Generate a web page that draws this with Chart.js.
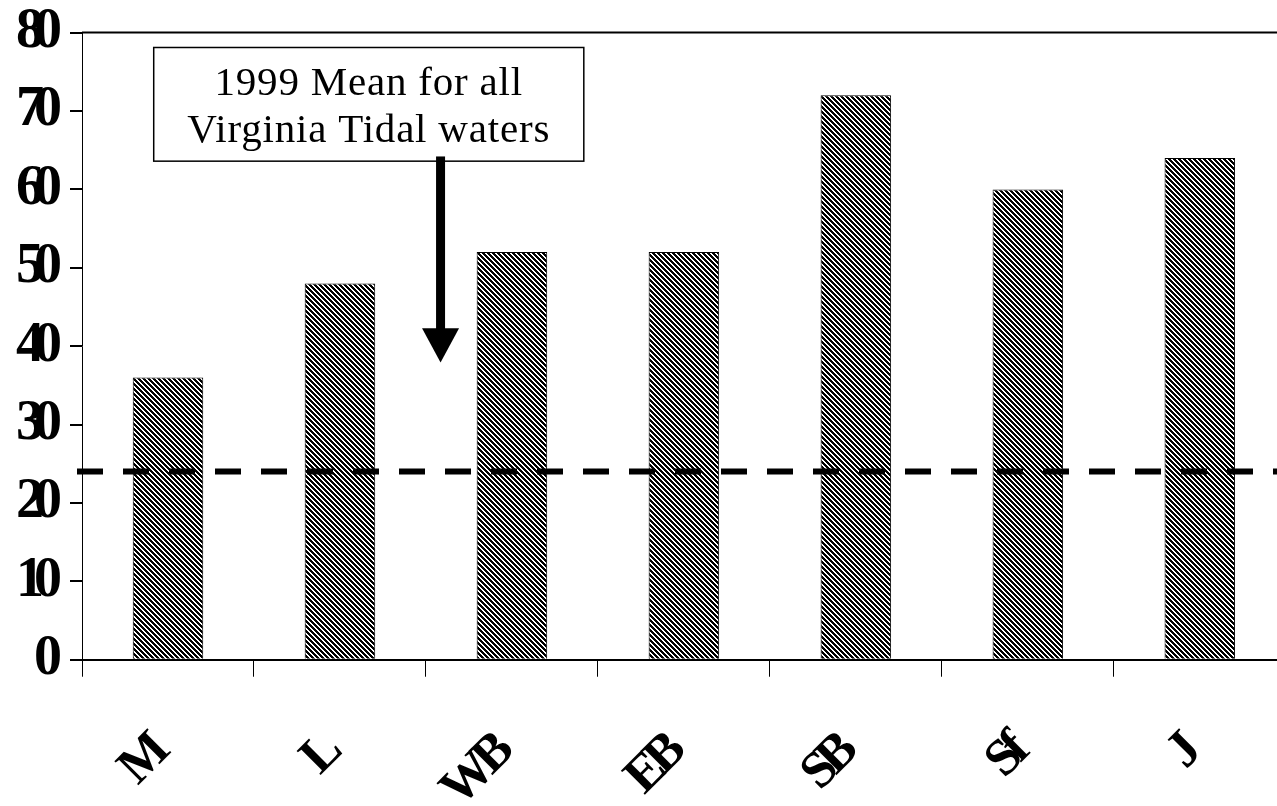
<!DOCTYPE html>
<html><head><meta charset="utf-8">
<script src="https://cdn.jsdelivr.net/npm/chart.js@4/dist/chart.umd.min.js"></script>
<style>
html,body{margin:0;padding:0;background:#fff;overflow:hidden}
#wrap{position:relative;width:1294px;height:883px;margin-left:-2px;margin-top:-19px}
</style>
</head><body>
<div id="wrap"><canvas id="c"></canvas></div>
<script>
// ---- data ----
const categories = ['M', 'L', 'WB', 'EB', 'SB', 'Sf', 'J'];
const values = [36, 48, 52, 52, 72, 60, 64];
const yTickValues = [0, 10, 20, 30, 40, 50, 60, 70, 80];
const virginiaMean = [24];
const noteLines = ['1999 Mean for all', 'Virginia Tidal waters'];

// ---- styling / placement (in data units of the scales) ----
const NOTE = { x0: -0.083, x1: 2.418, yTop: 78.1, yBottom: 63.6, line1: 72.1, line2: 66.0 };
const ARROW = { x: 1.585, yStart: 64.2, yHeadTop: 42.3, yTip: 37.9, headHalf: 18.5, shaft: 9 };
const SERIF = '"Liberation Serif", "Times New Roman", serif';
const Y_SPACING = '-10px';
const X_SPACING = '-7px';

function makePattern() {
  const n = 5;
  const c = document.createElement('canvas');
  c.width = n; c.height = n;
  const g = c.getContext('2d');
  g.fillStyle = '#000'; g.fillRect(0, 0, n, n);
  g.fillStyle = '#fff';
  for (let i = 0; i < n; i++) { g.fillRect(i, i, 1, 1); g.fillRect((i + 1) % n, i, 1, 1); }
  return g.createPattern(c, 'repeat');
}

function wrapLabels(scale, spacing) {
  if (!scale || scale.__wrapped) return;
  const orig = scale.drawLabels;
  scale.drawLabels = function (ca) {
    const prev = this.ctx.letterSpacing;
    this.ctx.letterSpacing = spacing;
    orig.call(this, ca);
    this.ctx.letterSpacing = prev;
  };
  scale.__wrapped = true;
}

const tickSpacing = {
  id: 'tickSpacing',
  beforeUpdate(chart) { chart.ctx.letterSpacing = Y_SPACING; },
  afterUpdate(chart) { wrapLabels(chart.scales.x, X_SPACING); wrapLabels(chart.scales.y, Y_SPACING); },
  beforeDraw(chart) { chart.ctx.letterSpacing = Y_SPACING; },
  afterDraw(chart) {
    const { ctx, chartArea: a, scales: { x, y } } = chart;
    ctx.save();
    ctx.letterSpacing = '0px';
    // top frame line
    ctx.strokeStyle = '#000';
    ctx.lineWidth = 2;
    ctx.beginPath();
    ctx.moveTo(a.left, a.top); ctx.lineTo(a.right, a.top);
    ctx.stroke();
    // dashed mean line
    const my = y.getPixelForValue(virginiaMean[0]);
    ctx.lineWidth = 6;
    ctx.setLineDash([26, 20]);
    ctx.lineDashOffset = 0;
    ctx.beginPath();
    ctx.moveTo(a.left - 5, my); ctx.lineTo(a.right, my);
    ctx.stroke();
    ctx.setLineDash([]);
    // note box
    const bx0 = x.getPixelForValue(NOTE.x0), bx1 = x.getPixelForValue(NOTE.x1);
    const by0 = y.getPixelForValue(NOTE.yTop), by1 = y.getPixelForValue(NOTE.yBottom);
    ctx.fillStyle = '#fff';
    ctx.fillRect(bx0, by0, bx1 - bx0, by1 - by0);
    ctx.lineWidth = 1.5;
    ctx.strokeRect(bx0, by0, bx1 - bx0, by1 - by0);
    ctx.fillStyle = '#000';
    ctx.font = '41px ' + SERIF;
    ctx.letterSpacing = '0.8px';
    ctx.textAlign = 'center';
    ctx.textBaseline = 'alphabetic';
    const cx = (bx0 + bx1) / 2;
    ctx.fillText(noteLines[0], cx, y.getPixelForValue(NOTE.line1));
    ctx.fillText(noteLines[1], cx, y.getPixelForValue(NOTE.line2));
    // arrow
    const ax = x.getPixelForValue(ARROW.x);
    const ay0 = y.getPixelForValue(ARROW.yStart);
    const ayh = y.getPixelForValue(ARROW.yHeadTop);
    const ayt = y.getPixelForValue(ARROW.yTip);
    ctx.fillRect(ax - ARROW.shaft / 2, ay0, ARROW.shaft, ayh - ay0 + 1);
    ctx.beginPath();
    ctx.moveTo(ax - ARROW.headHalf, ayh);
    ctx.lineTo(ax + ARROW.headHalf, ayh);
    ctx.lineTo(ax, ayt);
    ctx.closePath();
    ctx.fill();
    ctx.restore();
  }
};

Chart.defaults.font.family = SERIF;
Chart.defaults.color = '#000';

new Chart(document.getElementById('c'), {
  type: 'bar',
  data: {
    labels: categories,
    datasets: [{
      data: values,
      backgroundColor: makePattern(),
      borderColor: '#000',
      borderWidth: 1,
      categoryPercentage: 1,
      barPercentage: 0.41
    }]
  },
  options: {
    responsive: true,
    maintainAspectRatio: false,
    animation: false,
    devicePixelRatio: 1,
    layout: { padding: { left: 0, top: -5, right: 1, bottom: 0 } },
    plugins: { legend: { display: false }, tooltip: { enabled: false } },
    scales: {
      x: {
        offset: true,
        grid: { display: true, drawOnChartArea: false, offset: true, tickLength: 17, color: '#000', lineWidth: 1 },
        border: { display: true, color: '#000', width: 2 },
        ticks: {
          font: { size: 52, weight: 'bold', family: SERIF },
          color: '#000',
          minRotation: 45, maxRotation: 45,
          padding: 48,
          labelOffset: -10,
          autoSkip: false
        }
      },
      y: {
        min: 0, max: 80,
        afterBuildTicks(scale) { scale.ticks = yTickValues.map(v => ({ value: v })); },
        grid: { display: true, drawOnChartArea: false, tickLength: 12, color: '#000', lineWidth: 2 },
        border: { display: true, color: '#000', width: 1 },
        ticks: {
          font: { size: 56, weight: 'bold', family: SERIF },
          color: '#000',
          padding: 18
        }
      }
    }
  },
  plugins: [tickSpacing]
});
</script>
</body></html>
